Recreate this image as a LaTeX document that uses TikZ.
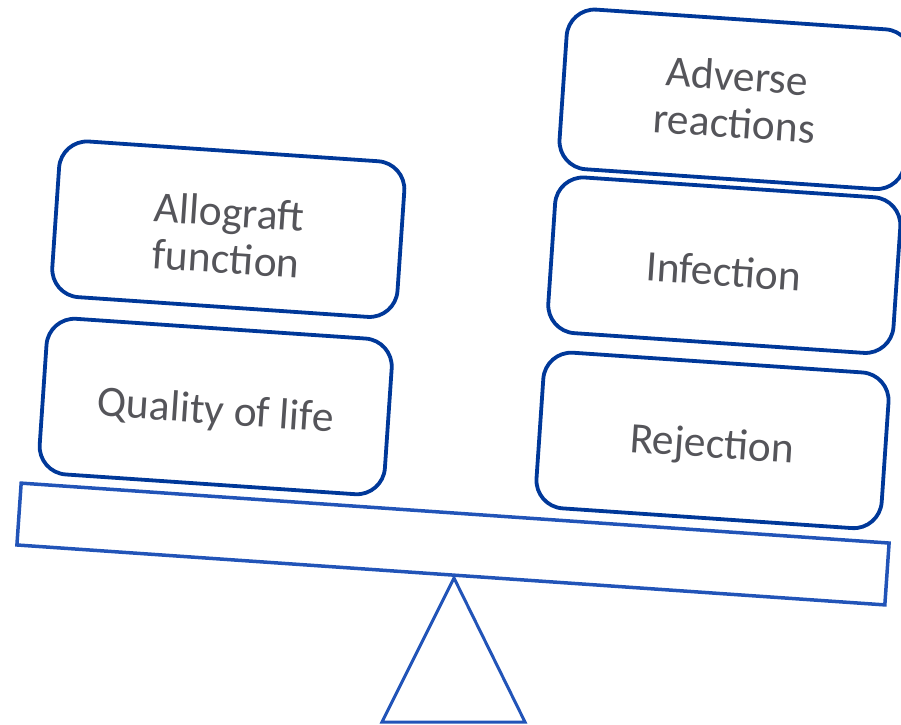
\documentclass[tikz,border=0pt]{standalone}
\usepackage{fontspec}
\setmainfont{Carlito}
\definecolor{boxblue}{RGB}{0,56,153}
\definecolor{beamblue}{RGB}{34,84,184}
\definecolor{txtgray}{RGB}{85,85,90}
\newcommand\dropstrut{\rule{0pt}{42pt}}
\begin{document}
\begin{tikzpicture}[x=1pt,y=-1pt,
  card/.style={draw=boxblue, line width=3.8pt, rounded corners=28pt, fill=white,
    rotate=-3.9, minimum width=346pt, minimum height=156pt, align=center,
    text=txtgray, font=\fontsize{43.5}{47}\selectfont, inner sep=0pt},
  beam/.style={draw=beamblue, line width=3.5pt, rotate=-3.95,
    minimum width=870pt, minimum height=62pt, inner sep=0pt},
  fulcrum/.style={draw=beamblue, line width=3pt, line join=miter}]
\useasboundingbox (0,0) rectangle (901,724);
\node[card, minimum height=160pt] (adverse) at (735.7,99.3) {Adverse\\reactions};
\node[card] (infection) at (724.3,265.2) {\dropstrut Infection};
\node[card] (rejection) at (712.5,440.4) {\dropstrut Rejection};
\node[card] (allograft) at (228.3,229.2) {\dropstrut Allograft\\function};
\node[card] (quality) at (215.7,406.5) {\dropstrut Quality of life};
\node[beam] (plank) at (453,544) {};
\coordinate (apex) at (454,578);
\coordinate (baseL) at (382,722);
\coordinate (baseR) at (525,722);
\draw[fulcrum] (apex) -- (baseL) -- (baseR) -- cycle;
\end{tikzpicture}
\end{document}
